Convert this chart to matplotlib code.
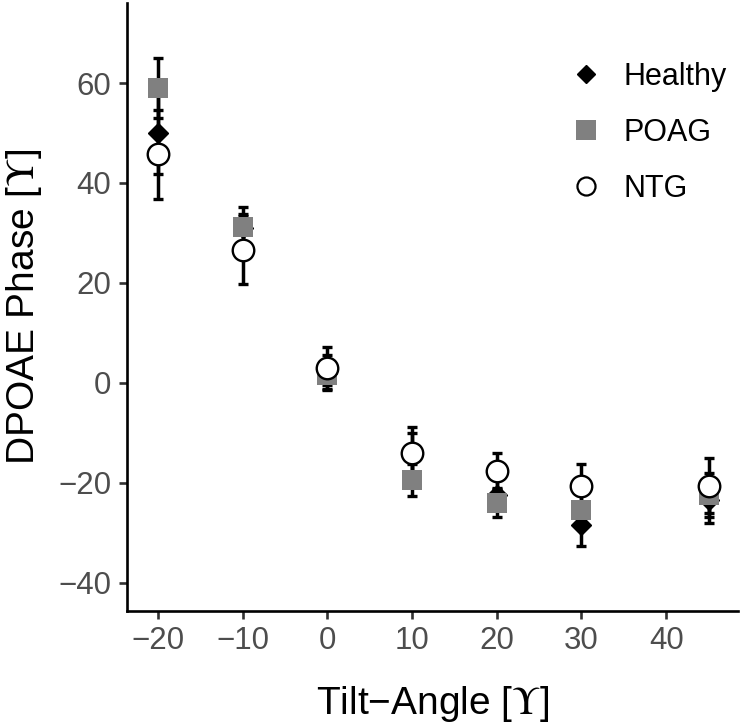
import matplotlib
matplotlib.use("Agg")
import matplotlib.pyplot as plt
from matplotlib.lines import Line2D

plt.rcParams['font.family'] = ['Liberation Sans', 'DejaVu Sans']
plt.rcParams['mathtext.fontset'] = 'stix'

angles = [-20, -10, 0, 10, 20, 30, 45]
healthy = [50.0, 31.0, 2.0, -14.5, -22.5, -28.5, -23.5]
healthy_err = [8.2, 2.8, 3.5, 4.4, 3.0, 4.1, 4.5]
poag = [59.0, 31.2, 1.5, -19.4, -24.0, -25.5, -22.5]
poag_err = [6.0, 4.0, 2.0, 3.2, 2.9, 3.0, 4.4]
ntg = [45.7, 26.6, 3.0, -14.1, -17.7, -20.6, -20.6]
ntg_err = [9.0, 6.8, 4.2, 5.2, 3.6, 4.3, 5.5]

x_ticks = [-20, -10, 0, 10, 20, 30, 40]
y_ticks = [-40, -20, 0, 20, 40, 60]
labels = ["Healthy", "POAG", "NTG"]

fig = plt.figure(figsize=(7.42, 7.28), dpi=100)
ax = fig.add_axes([0.1708, 0.1607, 0.824, 0.835])

grey = "#808080"
# error bars first
for vals, errs in [(healthy, healthy_err), (poag, poag_err), (ntg, ntg_err)]:
    ax.errorbar(angles, vals, yerr=errs, fmt="none", ecolor="black",
                elinewidth=2.5, capsize=3.3, capthick=2.4, zorder=2)

# points
ax.plot(angles, healthy, linestyle="none", marker="D", markersize=10.2,
        markerfacecolor="black", markeredgecolor="black", zorder=3)
ax.plot(angles, poag, linestyle="none", marker="s", markersize=14.4,
        markerfacecolor=grey, markeredgecolor=grey, markeredgewidth=0, zorder=4)
ax.plot(angles, ntg, linestyle="none", marker="o", markersize=15.5,
        markerfacecolor="white", markeredgecolor="black", markeredgewidth=1.7, zorder=5)

ax.set_xlim(-23.7, 48.5)
ax.set_ylim(-45.7, 76.0)
ax.set_xticks(x_ticks)
ax.set_yticks(y_ticks)

for s in ["top", "right"]:
    ax.spines[s].set_visible(False)
for s in ["left", "bottom"]:
    ax.spines[s].set_linewidth(1.9)
    ax.spines[s].set_color("black")

ax.tick_params(axis="both", which="major", length=6, width=1.9, color="#333333",
               labelsize=22.5, labelcolor="#4D4D4D", pad=5)

ax.set_xlabel("Tilt\u2212Angle [$\\Upsilon$]", fontsize=28, labelpad=20)
ax.set_ylabel("DPOAE Phase [$\\Upsilon$]", fontsize=28, labelpad=10)

handles = [
    Line2D([], [], linestyle="none", marker="D", markersize=9.2,
           markerfacecolor="black", markeredgecolor="black"),
    Line2D([], [], linestyle="none", marker="s", markersize=14.4,
           markerfacecolor=grey, markeredgecolor=grey, markeredgewidth=0),
    Line2D([], [], linestyle="none", marker="o", markersize=13.0,
           markerfacecolor="white", markeredgecolor="black", markeredgewidth=1.6),
]
ax.legend(handles, labels, loc="upper left", bbox_to_anchor=(0.731, 0.903),
          frameon=False, fontsize=22, borderpad=0, borderaxespad=0,
          handlelength=0.8, handletextpad=0.84, labelspacing=0.85)

fig.savefig("out.png", dpi=100, facecolor="white")
